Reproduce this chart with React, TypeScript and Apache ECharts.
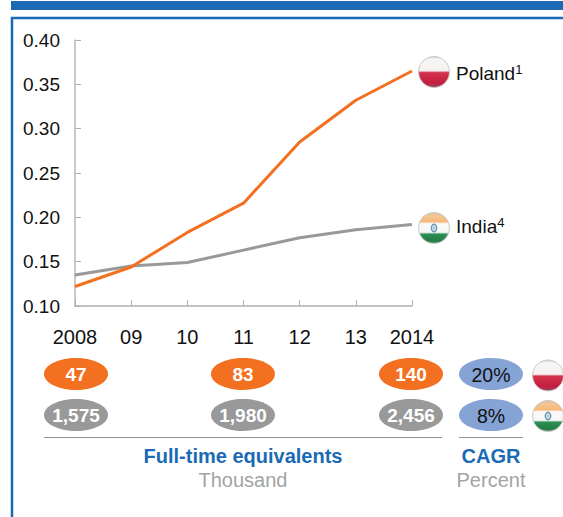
import React, { useEffect, useRef } from "react";
import * as echarts from "echarts";

const years = ["2008", "09", "10", "11", "12", "13", "2014"];
const poland = [0.122, 0.144, 0.183, 0.216, 0.285, 0.332, 0.365];
const india = [0.135, 0.145, 0.149, 0.163, 0.177, 0.186, 0.192];
const yTicks = [0.1, 0.15, 0.2, 0.25, 0.3, 0.35, 0.4];
const polandFte = ["47", "83", "140"];
const indiaFte = ["1,575", "1,980", "2,456"];
const cagr = ["20%", "8%"];

const FONT = "Liberation Sans";
const BLUE = "#1a6ab5";
const ORANGE = "#f47021";
const GREY = "#999999";
const PERI = "#86a3d6";

const grad = (stops: [number, string][]) => ({
  type: "linear", x: 0, y: 0, x2: 0, y2: 1, global: false,
  colorStops: stops.map(([offset, color]) => ({ offset, color })),
});

const flag = (cx: number, cy: number, kind: "pl" | "in") => {
  const r = 15.5;
  const fill = kind === "pl"
    ? grad([[0, "#d8d4d4"], [0.1, "#f6f6f6"], [0.46, "#f6f0f0"], [0.52, "#d4324c"], [0.85, "#c41e3f"], [1, "#8f4a5c"]])
    : grad([[0, "#dcc4a8"], [0.12, "#f5c592"], [0.3, "#f6b877"], [0.36, "#fafafa"], [0.64, "#f6f6f6"], [0.7, "#2c8f55"], [0.92, "#1f7f45"], [1, "#6f8f7c"]]);
  const els: any[] = [
    { type: "circle", shape: { cx, cy, r }, style: { fill, stroke: "#cbc8c8", lineWidth: 1 } },
  ];
  if (kind === "in") {
    els.push({ type: "ellipse", shape: { cx, cy, rx: 2.8, ry: 4 }, style: { fill: "#b8d4dc", stroke: "#4a7fa8", lineWidth: 1 } });
  }
  return els;
};

const pill = (cx: number, cy: number, color: string, text: string, textColor: string, bold: boolean) => [
  { type: "ellipse", shape: { cx, cy, rx: 32, ry: 16 }, style: { fill: color } },
  {
    type: "text", x: cx, y: cy + 0.5,
    style: { text, fill: textColor, font: `${bold ? "bold 19px" : "19.5px"} "${FONT}"`, align: "center", verticalAlign: "middle" },
  },
];

const centered = (cx: number, cy: number, text: string, color: string, bold: boolean) => ({
  type: "text", x: cx, y: cy,
  style: { text, fill: color, font: `${bold ? "bold " : ""}20px "${FONT}"`, align: "center", verticalAlign: "middle" },
});

const seriesLabel = (x: number, y: number, name: string, note: string) => ({
  type: "text", x, y,
  style: {
    text: `{a|${name}}{s|${note}}`, verticalAlign: "middle", align: "left",
    rich: {
      a: { font: `19px "${FONT}"`, fill: "#111111" },
      s: { font: `13px "${FONT}"`, fill: "#111111", verticalAlign: "top", padding: [0, 0, 7, 0] },
    },
  },
});

export default function App() {
  const ref = useRef<HTMLDivElement>(null);
  useEffect(() => {
    const chart = echarts.init(ref.current!, undefined, { renderer: "svg" });
    const cols = [76, 243, 411];
    const graphic: any[] = [
      { type: "rect", shape: { x: 11, y: 1, width: 560, height: 9 }, style: { fill: BLUE } },
      { type: "rect", shape: { x: 12, y: 18, width: 570, height: 520 }, style: { fill: "none", stroke: BLUE, lineWidth: 2.5 } },
      seriesLabel(456, 73, "Poland", "1"),
      seriesLabel(456, 226, "India", "4"),
      ...flag(434, 72, "pl"),
      ...flag(434, 228, "in"),
      ...cols.flatMap((c, i) => pill(c, 374, ORANGE, polandFte[i], "#ffffff", true)),
      ...cols.flatMap((c, i) => pill(c, 415, GREY, indiaFte[i], "#ffffff", true)),
      ...pill(491, 374, PERI, cagr[0], "#111111", false),
      ...pill(491, 415, PERI, cagr[1], "#111111", false),
      ...flag(548, 375.5, "pl"),
      ...flag(548, 416, "in"),
      { type: "line", shape: { x1: 44, y1: 437.5, x2: 442, y2: 437.5 }, style: { stroke: "#909090", lineWidth: 1 } },
      { type: "line", shape: { x1: 459, y1: 437.5, x2: 523, y2: 437.5 }, style: { stroke: "#909090", lineWidth: 1 } },
      centered(243, 456, "Full-time equivalents", BLUE, true),
      centered(243, 480, "Thousand", "#a3a3a3", false),
      centered(491, 456, "CAGR", BLUE, true),
      centered(491, 480, "Percent", "#a3a3a3", false),
    ];
    chart.setOption({
      animation: false,
      backgroundColor: "#ffffff",
      grid: { left: 75, top: 40, width: 337, height: 266, containLabel: false },
      xAxis: {
        type: "category", data: years, boundaryGap: false,
        axisLine: { lineStyle: { color: "#b0b0b0", width: 1.5 } },
        axisTick: { inside: true, length: 6, alignWithLabel: true, lineStyle: { color: "#b0b0b0", width: 1 } },
        axisLabel: { color: "#111111", fontFamily: FONT, fontSize: 20, margin: 21, interval: 0, showMinLabel: true, showMaxLabel: true },
        splitLine: { show: false },
      },
      yAxis: {
        type: "value", min: yTicks[0], max: yTicks[yTicks.length - 1], interval: 0.05,
        axisLine: { show: true, lineStyle: { color: "#b8b8b8", width: 1.5 } },
        axisTick: { show: true, inside: true, length: 6, lineStyle: { color: "#b0b0b0", width: 1 } },
        axisLabel: { color: "#111111", fontFamily: FONT, fontSize: 19, margin: 15, formatter: (v: number) => v.toFixed(2) },
        splitLine: { show: false },
      },
      series: [
        { name: "India", type: "line", data: india, showSymbol: false, symbol: "none", lineStyle: { color: "#999999", width: 3 } },
        { name: "Poland", type: "line", data: poland, showSymbol: false, symbol: "none", lineStyle: { color: ORANGE, width: 3 } },
      ],
      graphic,
    });
    return () => chart.dispose();
  }, []);
  return <div ref={ref} style={{ position: "absolute", left: 0, top: 0, width: 563, height: 517 }} />;
}
